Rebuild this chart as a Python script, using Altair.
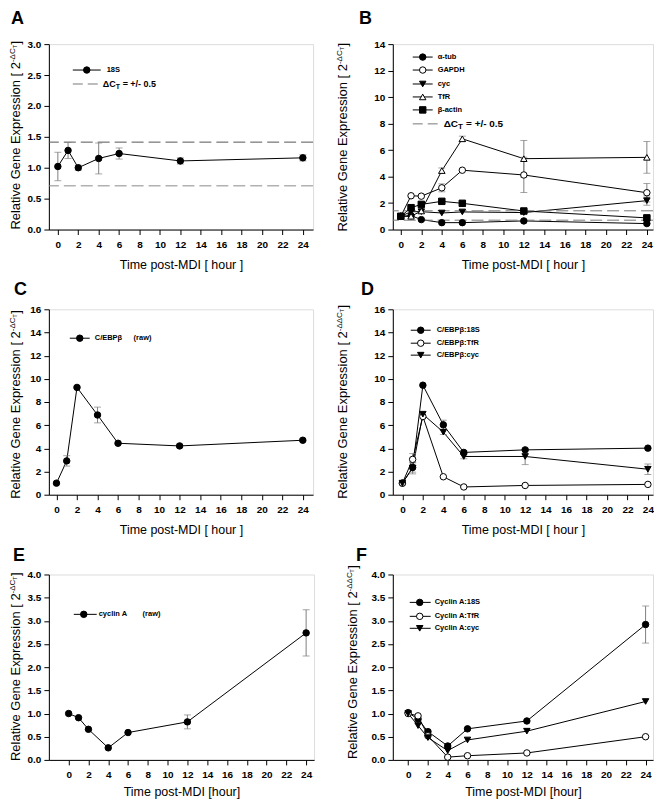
import altair as alt
import pandas as pd

FONT = "Liberation Sans"

TIMES = [0, 1, 2, 4, 6, 12, 24]
X_TICKS = list(range(0, 25, 2))

# Panel A : reference gene 18S
A_18S = [1.02, 1.28, 1.00, 1.15, 1.23, 1.11, 1.16]
A_18S_ERR = [0.23, 0.13, 0.04, 0.25, 0.09, 0.05, 0.05]

# Panel B : other reference genes
B_ATUB = [1.0, 1.05, 0.75, 0.52, 0.52, 0.65, 0.45]
B_ATUB_ERR = [0, 0, 0, 0, 0, 0.08, 0]
B_GAPDH = [1.0, 2.55, 2.52, 3.15, 4.48, 4.12, 2.78]
B_GAPDH_ERR = [0, 0, 0, 0.3, 0, 1.33, 0.7]
B_CYC = [1.0, 1.35, 1.35, 1.25, 1.33, 1.28, 2.18]
B_CYC_ERR = [0, 0, 0, 0, 0, 0.1, 0.35]
B_TFR = [1.0, 1.0, 1.4, 4.45, 6.85, 5.35, 5.45]
B_TFR_ERR = [0, 0, 0, 0.2, 0.2, 1.38, 1.2]
B_ACTIN = [1.0, 1.65, 1.9, 2.13, 1.98, 1.4, 0.88]
B_ACTIN_ERR = [0, 0, 0, 0, 0, 0, 0.1]

# Panel C : C/EBPbeta raw
C_CEBPB = [1.0, 2.92, 9.26, 6.88, 4.44, 4.21, 4.70]
C_CEBPB_ERR = [0, 0.45, 0.1, 0.68, 0.1, 0.15, 0.1]

# Panel D : C/EBPbeta normalised
D_18S = [1.0, 2.35, 9.45, 6.03, 3.65, 3.87, 4.02]
D_18S_ERR = [0, 0.4, 0, 0.4, 0.15, 0, 0]
D_TFR = [1.0, 3.05, 6.75, 1.55, 0.67, 0.80, 0.89]
D_TFR_ERR = [0, 0.5, 0, 0, 0, 0, 0]
D_CYC = [1.0, 2.3, 6.95, 5.4, 3.3, 3.3, 2.2]
D_CYC_ERR = [0, 0.5, 0, 0.2, 0.2, 0.7, 0.45]

# Panel E : cyclin A raw
E_CYCA = [1.0, 0.91, 0.66, 0.26, 0.59, 0.82, 2.74]
E_CYCA_ERR = [0, 0, 0, 0, 0, 0.15, 0.5]

# Panel F : cyclin A normalised
F_18S = [1.02, 0.88, 0.61, 0.30, 0.67, 0.84, 2.92]
F_18S_ERR = [0, 0, 0.03, 0.03, 0, 0, 0.4]
F_TFR = [1.0, 0.95, 0.52, 0.06, 0.09, 0.15, 0.50]
F_TFR_ERR = [0, 0, 0, 0, 0, 0, 0]
F_CYC = [1.0, 0.74, 0.48, 0.20, 0.43, 0.62, 1.26]
F_CYC_ERR = [0, 0, 0, 0, 0, 0, 0]

DASH_HI = 2 ** 0.5
DASH_LO = 2 ** -0.5

ONE = alt.Data(values=[{"k": 0}])
MSIZE = 42
LEG_FS = 7.5


def txt(text, x, y, size=LEG_FS, weight="bold", align="left", baseline="middle", angle=0):
    kw = dict(text=text, font=FONT, fontSize=size, fontWeight=weight,
              align=align, baseline=baseline, color="black")
    if angle:
        kw["angle"] = angle
    return alt.Chart(ONE).mark_text(**kw).encode(x=alt.value(x), y=alt.value(y))


def prule(x1, x2, y, dashed=False):
    kw = dict(color="#777777", strokeDash=[10, 5], strokeWidth=1) if dashed else dict(color="black", strokeWidth=1)
    return alt.Chart(ONE).mark_rule(**kw).encode(x=alt.value(x1), x2=alt.value(x2), y=alt.value(y))


def marker_kw(shape, filled):
    return dict(shape=shape, filled=True, fill="black" if filled else "white",
                stroke="black", strokeWidth=1, size=MSIZE, opacity=1)


def ppoint(x, y, shape, filled):
    return alt.Chart(ONE).mark_point(**marker_kw(shape, filled)).encode(x=alt.value(x), y=alt.value(y))


def panel(letter, lpos, series, ymax, ystep, yfmt, width, xdom, xtitle, tpad, sup,
          title_pos, legend, dashed=None, extra=None):
    xscale = alt.Scale(domain=xdom, nice=False, zero=False)
    yscale = alt.Scale(domain=[0, ymax], nice=False)
    xaxis = alt.Axis(values=X_TICKS, title=xtitle, grid=False, labelFont=FONT,
                     labelFontWeight="bold", labelFontSize=10, labelColor="black",
                     tickColor="black", domainColor="black", tickSize=5, labelPadding=5,
                     titleFont=FONT, titleFontSize=12.5, titleFontWeight="normal",
                     titleColor="black", titlePadding=tpad, labelFlush=False,
                     labelOverlap=False)
    yvals = []
    v = 0.0
    while v <= ymax + 1e-9:
        yvals.append(round(v, 3))
        v += ystep
    yaxis = alt.Axis(values=yvals, format=yfmt, title=None, grid=False, labelFont=FONT,
                     labelFontWeight="bold", labelFontSize=10, labelColor="black",
                     tickColor="black", domainColor="black", tickSize=5, labelPadding=3,
                     labelFlush=False, labelOverlap=False)

    def X(f):
        return alt.X(f, type="quantitative", scale=xscale, axis=xaxis)

    def Y(f):
        return alt.Y(f, type="quantitative", scale=yscale, axis=yaxis)

    layers = []
    frames = []
    for name, vals, errs, shape, filled in series:
        df = pd.DataFrame({"t": TIMES, "v": vals, "e": errs})
        df["lo"] = df["v"] - df["e"]
        df["hi"] = df["v"] + df["e"]
        frames.append((df, shape, filled))
    for df, shape, filled in frames:
        layers.append(alt.Chart(df).mark_line(color="black", strokeWidth=1).encode(x=X("t"), y=Y("v")))
    if dashed:
        for d, col in zip((DASH_HI, DASH_LO), dashed):
            layers.append(alt.Chart(ONE).mark_rule(color=col, strokeDash=[12, 5], strokeWidth=1)
                          .encode(y=alt.Y(datum=d, type="quantitative", scale=yscale, axis=yaxis)))
    for df, shape, filled in frames:
        eb = df[df["e"] > 0]
        if len(eb):
            layers.append(alt.Chart(eb).mark_rule(color="#808080", strokeWidth=1)
                          .encode(x=X("t"), y=Y("lo"), y2="hi"))
            for f in ("lo", "hi"):
                layers.append(alt.Chart(eb).mark_tick(color="#808080", orient="horizontal",
                                                      size=7, thickness=1)
                              .encode(x=X("t"), y=Y(f)))
    for df, shape, filled in frames:
        layers.append(alt.Chart(df).mark_point(**marker_kw(shape, filled)).encode(x=X("t"), y=Y("v")))

    # legend drawn inside the plot
    lx1, lx2, lm, lt, rows = legend
    for (name, vals, errs, shape, filled), ly in zip(series, rows):
        layers.append(prule(lx1, lx2, ly))
        layers.append(ppoint(lm, ly, shape, filled))
    for (name, vals, errs, shape, filled), ly in zip(series, rows):
        layers.append(txt(name, lt, ly))
    if extra:
        layers.extend(extra)

    # y axis title with superscript exponent
    bx, yend = title_pos
    sup_main, sup_w = sup
    layers.append(txt("Relative Gene Expression [ 2", bx, yend, size=13, weight="normal",
                      align="right", baseline="alphabetic", angle=270))
    layers.append(txt(sup_main, bx - 5, yend, size=8, weight="normal",
                      align="left", baseline="alphabetic", angle=270))
    layers.append(txt("T", bx - 3, yend - sup_w, size=6, weight="normal",
                      align="left", baseline="alphabetic", angle=270))
    layers.append(txt(" ]", bx, yend - sup_w - 4, size=13, weight="normal",
                      align="left", baseline="alphabetic", angle=270))
    # panel letter
    layers.append(txt(letter, lpos[0], lpos[1], size=18, weight="bold", baseline="top"))

    return alt.layer(*layers).properties(width=width, height=186)


def dct_legend(x, y, fs, w1, w2):
    return [txt("ΔC", x, y, size=fs), txt("T", x + w1, y + 3, size=fs - 2),
            txt("= +/- 0.5", x + w1 + w2, y, size=fs)]


XT1 = "Time post-MDI  [ hour ]"
XT2 = "Time post-MDI [hour]"
SUP1 = ("-ΔC", 13.5)
SUP2 = ("-ΔΔC", 18.7)

# invisible anchor fixing the top-left corner of the whole figure
ANCHOR = alt.Chart(ONE).mark_rule(opacity=0, strokeWidth=0).encode(
    x=alt.value(-40), x2=alt.value(-39), y=alt.value(-34))

pA = panel("A", (-38, -34),
           [("18S", A_18S, A_18S_ERR, "circle", True)],
           3.0, 0.5, ".1f", 265, [-0.88, 25.0], XT1, 9, SUP1, (-29, 18),
           (24, 52, 38, 58, [26]), dashed=("#555555", "#8a8a8a"),
           extra=[prule(24, 52, 40, dashed=True)] + dct_legend(54, 40, 9, 13, 7) + [ANCHOR])

pB = panel("B", (-34, -34),
           [("α-tub", B_ATUB, B_ATUB_ERR, "circle", True),
            ("GAPDH", B_GAPDH, B_GAPDH_ERR, "circle", False),
            ("cyc", B_CYC, B_CYC_ERR, "triangle-down", True),
            ("TfR", B_TFR, B_TFR_ERR, "triangle-up", False),
            ("β-actin", B_ACTIN, B_ACTIN_ERR, "square", True)],
           14, 2, "d", 261, [-0.78, 24.6], XT1, 9, SUP1, (-46, 20),
           (20, 40, 30, 45, [13, 26, 40, 53, 66]), dashed=("#777777", "#777777"),
           extra=[prule(20, 46, 80, dashed=True)] + dct_legend(51, 80, 10, 14.5, 8))

pC = panel("C", (-35, -28),
           [("C/EBPβ", C_CEBPB, C_CEBPB_ERR, "circle", True)],
           16, 2, "d", 265, [-0.74, 25.0], XT1, 9, SUP1, (-29, 22),
           (21, 41, 31, 46, [29]),
           extra=[txt("(raw)", 85, 29)])

pD = panel("D", (-32, -28),
           [("C/EBPβ:18S", D_18S, D_18S_ERR, "circle", True),
            ("C/EBPβ:TfR", D_TFR, D_TFR_ERR, "circle", False),
            ("C/EBPβ:cyc", D_CYC, D_CYC_ERR, "triangle-down", True)],
           16, 2, "d", 261, [-0.94, 24.5], XT1, 9, SUP2, (-46, 22),
           (18, 38, 28, 44, [21, 34, 46]))

pE = panel("E", (-36, -28),
           [("cyclin A", E_CYCA, E_CYCA_ERR, "circle", True)],
           4.0, 0.5, ".1f", 266, [-2.0, 24.8], XT2, 6, SUP1, (-29, 19),
           (25, 48, 35, 50, [40]),
           extra=[txt("(raw)", 94, 40)])

pF = panel("F", (-37, -28),
           [("Cyclin A:18S", F_18S, F_18S_ERR, "circle", True),
            ("Cyclin A:TfR", F_TFR, F_TFR_ERR, "circle", False),
            ("Cyclin A:cyc", F_CYC, F_CYC_ERR, "triangle-down", True)],
           4.0, 0.5, ".1f", 261, [-1.55, 24.75], XT2, 6, SUP2, (-36, 17),
           (17, 38, 27, 42, [28, 42, 54]))

chart = alt.concat(pA, pB, pC, pD, pE, pF, columns=2,
                   spacing={"row": 80, "column": 79}, bounds="flush").properties(
    padding={"left": 0, "top": 0, "right": 0, "bottom": 0}
).configure_view(stroke="black", strokeWidth=1).configure(background="white")

chart.save("out.html", embed_options={"renderer": "svg", "actions": False})
